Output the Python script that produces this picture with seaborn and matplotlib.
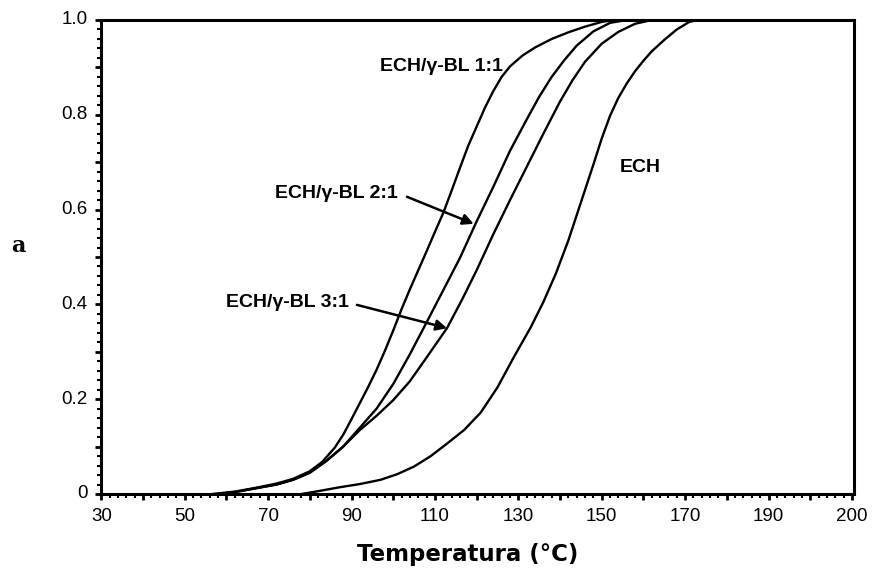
import numpy as np
import pandas as pd
import matplotlib
matplotlib.use("Agg")
import matplotlib.pyplot as plt
import seaborn as sns
from matplotlib.ticker import MultipleLocator

# Conversion curves (degree of cure vs temperature, °C)
t_11 = [56.6, 62, 67, 72, 76, 80, 83, 86, 88, 90, 92, 94, 96, 98, 100, 102, 104, 106,
        108, 110, 112, 114, 116, 118, 120, 122, 124, 126, 128, 131, 134, 138, 142, 146,
        150, 153, 192]
a_11 = [0.0, 0.005, 0.013, 0.022, 0.032, 0.048, 0.068, 0.098, 0.125, 0.158, 0.192,
        0.226, 0.262, 0.302, 0.345, 0.390, 0.432, 0.472, 0.512, 0.553, 0.593, 0.640,
        0.688, 0.735, 0.775, 0.815, 0.850, 0.880, 0.902, 0.925, 0.942, 0.960, 0.974,
        0.986, 0.996, 1.0, 1.0]

t_21 = [57.5, 62, 67, 72, 76, 80, 84, 88, 92, 96, 100, 104, 108, 112, 116, 120, 124,
        128, 132, 135, 138, 141, 144, 148, 152, 156, 192]
a_21 = [0.0, 0.004, 0.012, 0.020, 0.030, 0.045, 0.070, 0.100, 0.140, 0.180, 0.232,
        0.295, 0.362, 0.430, 0.498, 0.575, 0.648, 0.724, 0.790, 0.838, 0.880, 0.915,
        0.946, 0.976, 0.994, 1.0, 1.0]

t_31 = [58, 62, 67, 72, 76, 80, 84, 88, 92, 96, 100, 104, 108, 112.9, 116.5, 120, 124,
        128, 132, 136, 140, 143, 146, 150, 154, 158, 162, 192]
a_31 = [0.0, 0.004, 0.012, 0.020, 0.030, 0.045, 0.070, 0.100, 0.135, 0.165, 0.198,
        0.238, 0.288, 0.350, 0.410, 0.472, 0.548, 0.620, 0.690, 0.760, 0.828, 0.873,
        0.912, 0.950, 0.975, 0.992, 1.0, 1.0]

t_ech = [78, 82, 87, 92, 97, 101, 105, 109, 113, 117, 121, 125, 129, 133, 136, 139,
         142, 145, 148, 150, 152, 154, 156, 158, 160, 162, 165, 168, 171, 173, 192]
a_ech = [0.0, 0.006, 0.014, 0.021, 0.030, 0.042, 0.058, 0.080, 0.107, 0.135, 0.172,
         0.225, 0.290, 0.352, 0.405, 0.465, 0.535, 0.615, 0.695, 0.750, 0.798, 0.836,
         0.866, 0.892, 0.914, 0.934, 0.958, 0.980, 0.996, 1.0, 1.0]

series = ["ECH/γ-BL 1:1", "ECH/γ-BL 2:1", "ECH/γ-BL 3:1", "ECH"]

x_ticks = [30, 50, 70, 90, 110, 130, 150, 170, 190, 210]
x_tick_labels = ["30", "50", "70", "90", "110", "130", "150", "170", "190", "200"]
y_ticks = [0.0, 0.2, 0.4, 0.6, 0.8, 1.0]
y_tick_labels = ["0", "0.2", "0.4", "0.6", "0.8", "1.0"]

frames = []
for name, t, a in zip(series, [t_11, t_21, t_31, t_ech], [a_11, a_21, a_31, a_ech]):
    frames.append(pd.DataFrame({"T": t, "alpha": a, "serie": name}))
df = pd.concat(frames, ignore_index=True)

sns.set_theme(style="white")
plt.rcParams["font.family"] = ["Liberation Sans", "DejaVu Sans"]
plt.rcParams["text.color"] = "black"

fig = plt.figure(figsize=(8.73, 5.80), dpi=100)
ax = fig.add_axes([100.5 / 873, 1 - 494 / 580, (854 - 100.5) / 873, (494 - 20) / 580])

sns.lineplot(data=df, x="T", y="alpha", hue="serie", units="serie", estimator=None,
             sort=False, palette=["black"] * 4, linewidth=1.7, legend=False, ax=ax)

ax.set_xlim(29.8, 210.5)
ax.set_ylim(0, 1.0)
ax.set_xlabel("")
ax.set_ylabel("")

ax.xaxis.set_major_locator(MultipleLocator(10))
ax.xaxis.set_minor_locator(MultipleLocator(2))
ax.yaxis.set_major_locator(MultipleLocator(0.1))
ax.yaxis.set_minor_locator(MultipleLocator(0.02))
ax.xaxis.set_major_formatter(plt.NullFormatter())
ax.yaxis.set_major_formatter(plt.NullFormatter())

for xv, lab in zip(x_ticks, x_tick_labels):
    ax.text(xv, -0.03, lab, ha="center", va="top", fontsize=13.5, color="black",
            transform=ax.get_xaxis_transform())
for yv, lab in zip(y_ticks, y_tick_labels):
    ax.text(-0.017, yv, lab, ha="right", va="center", fontsize=13.5, color="black",
            transform=ax.get_yaxis_transform())

ax.tick_params(axis="both", which="major", direction="out", length=4, width=2,
               color="black", bottom=True, left=True)
ax.tick_params(axis="both", which="minor", direction="out", length=3, width=1.5,
               color="black", bottom=True, left=True)

for sp in ax.spines.values():
    sp.set_visible(True)
    sp.set_color("black")
    sp.set_linewidth(2.2)

note_font = dict(family=["Liberation Sans", "DejaVu Sans"], fontweight="bold",
                 fontsize=14, color="black")

ax.text(111.5, 0.901, "ECH/γ-BL 1:1", ha="center", va="center", **note_font)
ax.text(86.4, 0.635, "ECH/γ-BL 2:1", ha="center", va="center", **note_font)
ax.text(74.6, 0.403, "ECH/γ-BL 3:1", ha="center", va="center", **note_font)
ax.text(159.3, 0.688, "ECH", ha="center", va="center", **note_font)

arrow = dict(arrowstyle="-|>", color="black", lw=1.8, mutation_scale=16,
             shrinkA=0, shrinkB=0)
ax.annotate("", xy=(119.3, 0.570), xytext=(103.3, 0.627), arrowprops=arrow)
ax.annotate("", xy=(112.9, 0.350), xytext=(91.3, 0.399), arrowprops=arrow)

fig.text(468 / 873, 1 - 555 / 580, "Temperatura (°C)", ha="center", va="center",
         fontsize=16.5, fontweight="bold", family=["DejaVu Sans"], color="black")
fig.text(18 / 873, 1 - 246 / 580, "a", ha="center", va="center",
         fontsize=16, fontweight="bold", family=["DejaVu Serif"], color="black")

fig.savefig("out.png", dpi=100)
